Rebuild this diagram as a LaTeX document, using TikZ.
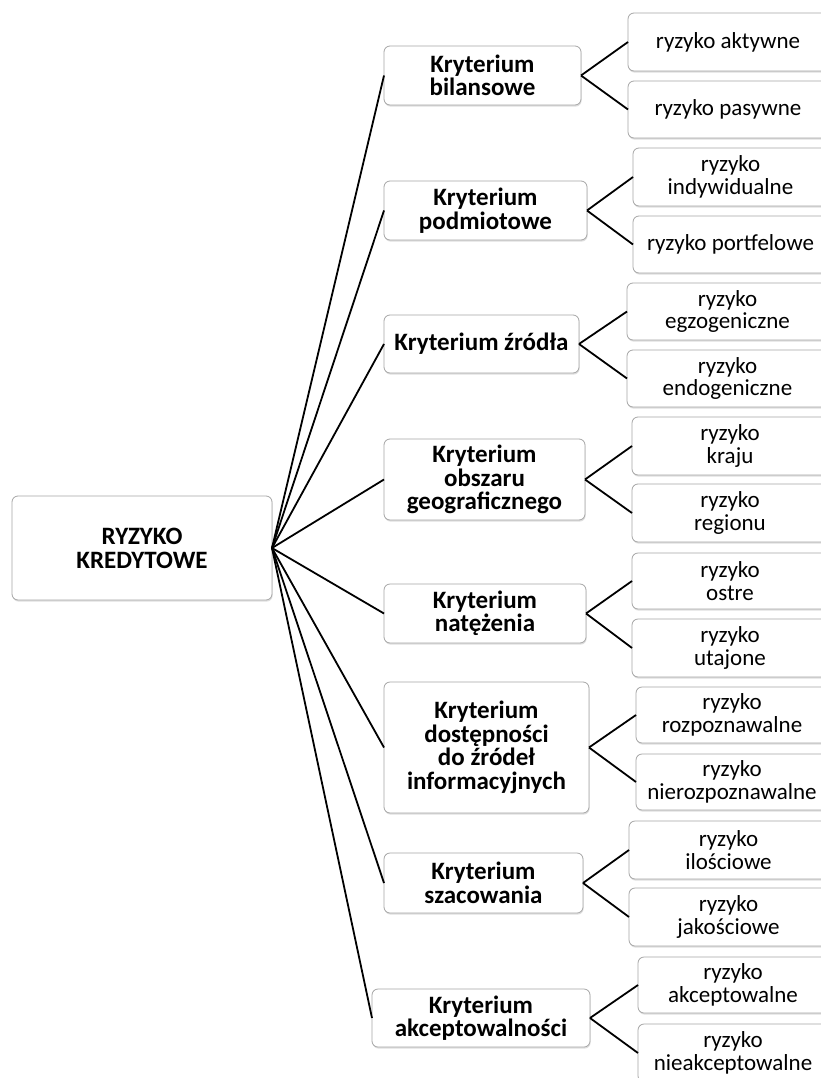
\documentclass[tikz,border=0pt]{standalone}
\usepackage{fontspec}
\setmainfont{Carlito}
\usetikzlibrary{shadows}
\begin{document}
\begin{tikzpicture}[x=1pt,y=-1pt,
  box/.style={draw=black!35, line width=0.8pt, fill=white, rounded corners=6pt,
    inner sep=0pt, outer sep=0pt, align=center,
    font=\fontsize{23}{22.5}\selectfont,
    drop shadow={shadow xshift=0.6pt, shadow yshift=-1.6pt, fill=black!25}},
  rootbox/.style={box, font=\fontsize{25}{24}\selectfont\bfseries},
  critbox/.style={box, font=\fontsize{25}{23.5}\selectfont\bfseries},
  leafbox/.style={box},
  link/.style={draw=black, line width=1.8pt}]
\useasboundingbox (0,0) rectangle (821,1078);
\clip (0,0) rectangle (821,1078);
\fill[white] (0,0) rectangle (821,1078);

% root
\node[rootbox, minimum width=260, minimum height=104] (root) at (142,548) {RYZYKO\\KREDYTOWE};

% criteria
\node[critbox, minimum width=197, minimum height=59] (k1) at (482.5,75.5) {Kryterium\\bilansowe};
\node[critbox, minimum width=203, minimum height=59] (k2) at (485.5,210.5) {Kryterium\\podmiotowe};
\node[critbox, minimum width=195, minimum height=58] (k3) at (481.5,344) {Kryterium źródła};
\node[critbox, minimum width=201, minimum height=81] (k4) at (484.5,479.5) {Kryterium\\obszaru\\geograficznego};
\node[critbox, minimum width=202, minimum height=59] (k5) at (485,613.5) {Kryterium\\natężenia};
\node[critbox, minimum width=205, minimum height=131] (k6) at (486.5,747.5) {Kryterium\\dostępności\\do źródeł\\informacyjnych};
\node[critbox, minimum width=199, minimum height=60] (k7) at (483.5,883) {Kryterium\\szacowania};
\node[critbox, minimum width=218, minimum height=58] (k8) at (481,1018) {Kryterium\\akceptowalności};

% leaves
\node[leafbox, minimum width=200, minimum height=58] (l1a) at (728,42) {ryzyko aktywne};
\node[leafbox, minimum width=200, minimum height=57] (l1b) at (728,109.5) {ryzyko pasywne};
\node[leafbox, minimum width=195, minimum height=58] (l2a) at (730.5,177) {ryzyko\\indywidualne};
\node[leafbox, minimum width=195, minimum height=57] (l2b) at (730.5,244.5) {ryzyko portfelowe};
\node[leafbox, minimum width=201, minimum height=57] (l3a) at (727.5,311.5) {ryzyko\\egzogeniczne};
\node[leafbox, minimum width=201, minimum height=57] (l3b) at (727.5,378.5) {ryzyko\\endogeniczne};
\node[leafbox, minimum width=196, minimum height=58] (l4a) at (730,446) {ryzyko\\kraju};
\node[leafbox, minimum width=196, minimum height=58] (l4b) at (730,513) {ryzyko\\regionu};
\node[leafbox, minimum width=196, minimum height=56] (l5a) at (730,581) {ryzyko\\ostre};
\node[leafbox, minimum width=196, minimum height=58] (l5b) at (730,648) {ryzyko\\utajone};
\node[leafbox, minimum width=192, minimum height=56] (l6a) at (732,715) {ryzyko\\rozpoznawalne};
\node[leafbox, minimum width=192, minimum height=56] (l6b) at (732,782) {ryzyko\\nierozpoznawalne};
\node[leafbox, minimum width=199, minimum height=58] (l7a) at (728.5,850) {ryzyko\\ilościowe};
\node[leafbox, minimum width=199, minimum height=58] (l7b) at (728.5,917) {ryzyko\\jakościowe};
\node[leafbox, minimum width=190, minimum height=56] (l8a) at (733,985) {ryzyko\\akceptowalne};
\node[leafbox, minimum width=190, minimum height=58] (l8b) at (733,1053) {ryzyko\\nieakceptowalne};

% connectors
\foreach \k in {k1,k2,k3,k4,k5,k6,k7,k8}
  \draw[link] (root.east) -- (\k.west);
\foreach \i in {1,...,8} {
  \draw[link] (k\i.east) -- (l\i a.west);
  \draw[link] (k\i.east) -- (l\i b.west);
}
\end{tikzpicture}
\end{document}
